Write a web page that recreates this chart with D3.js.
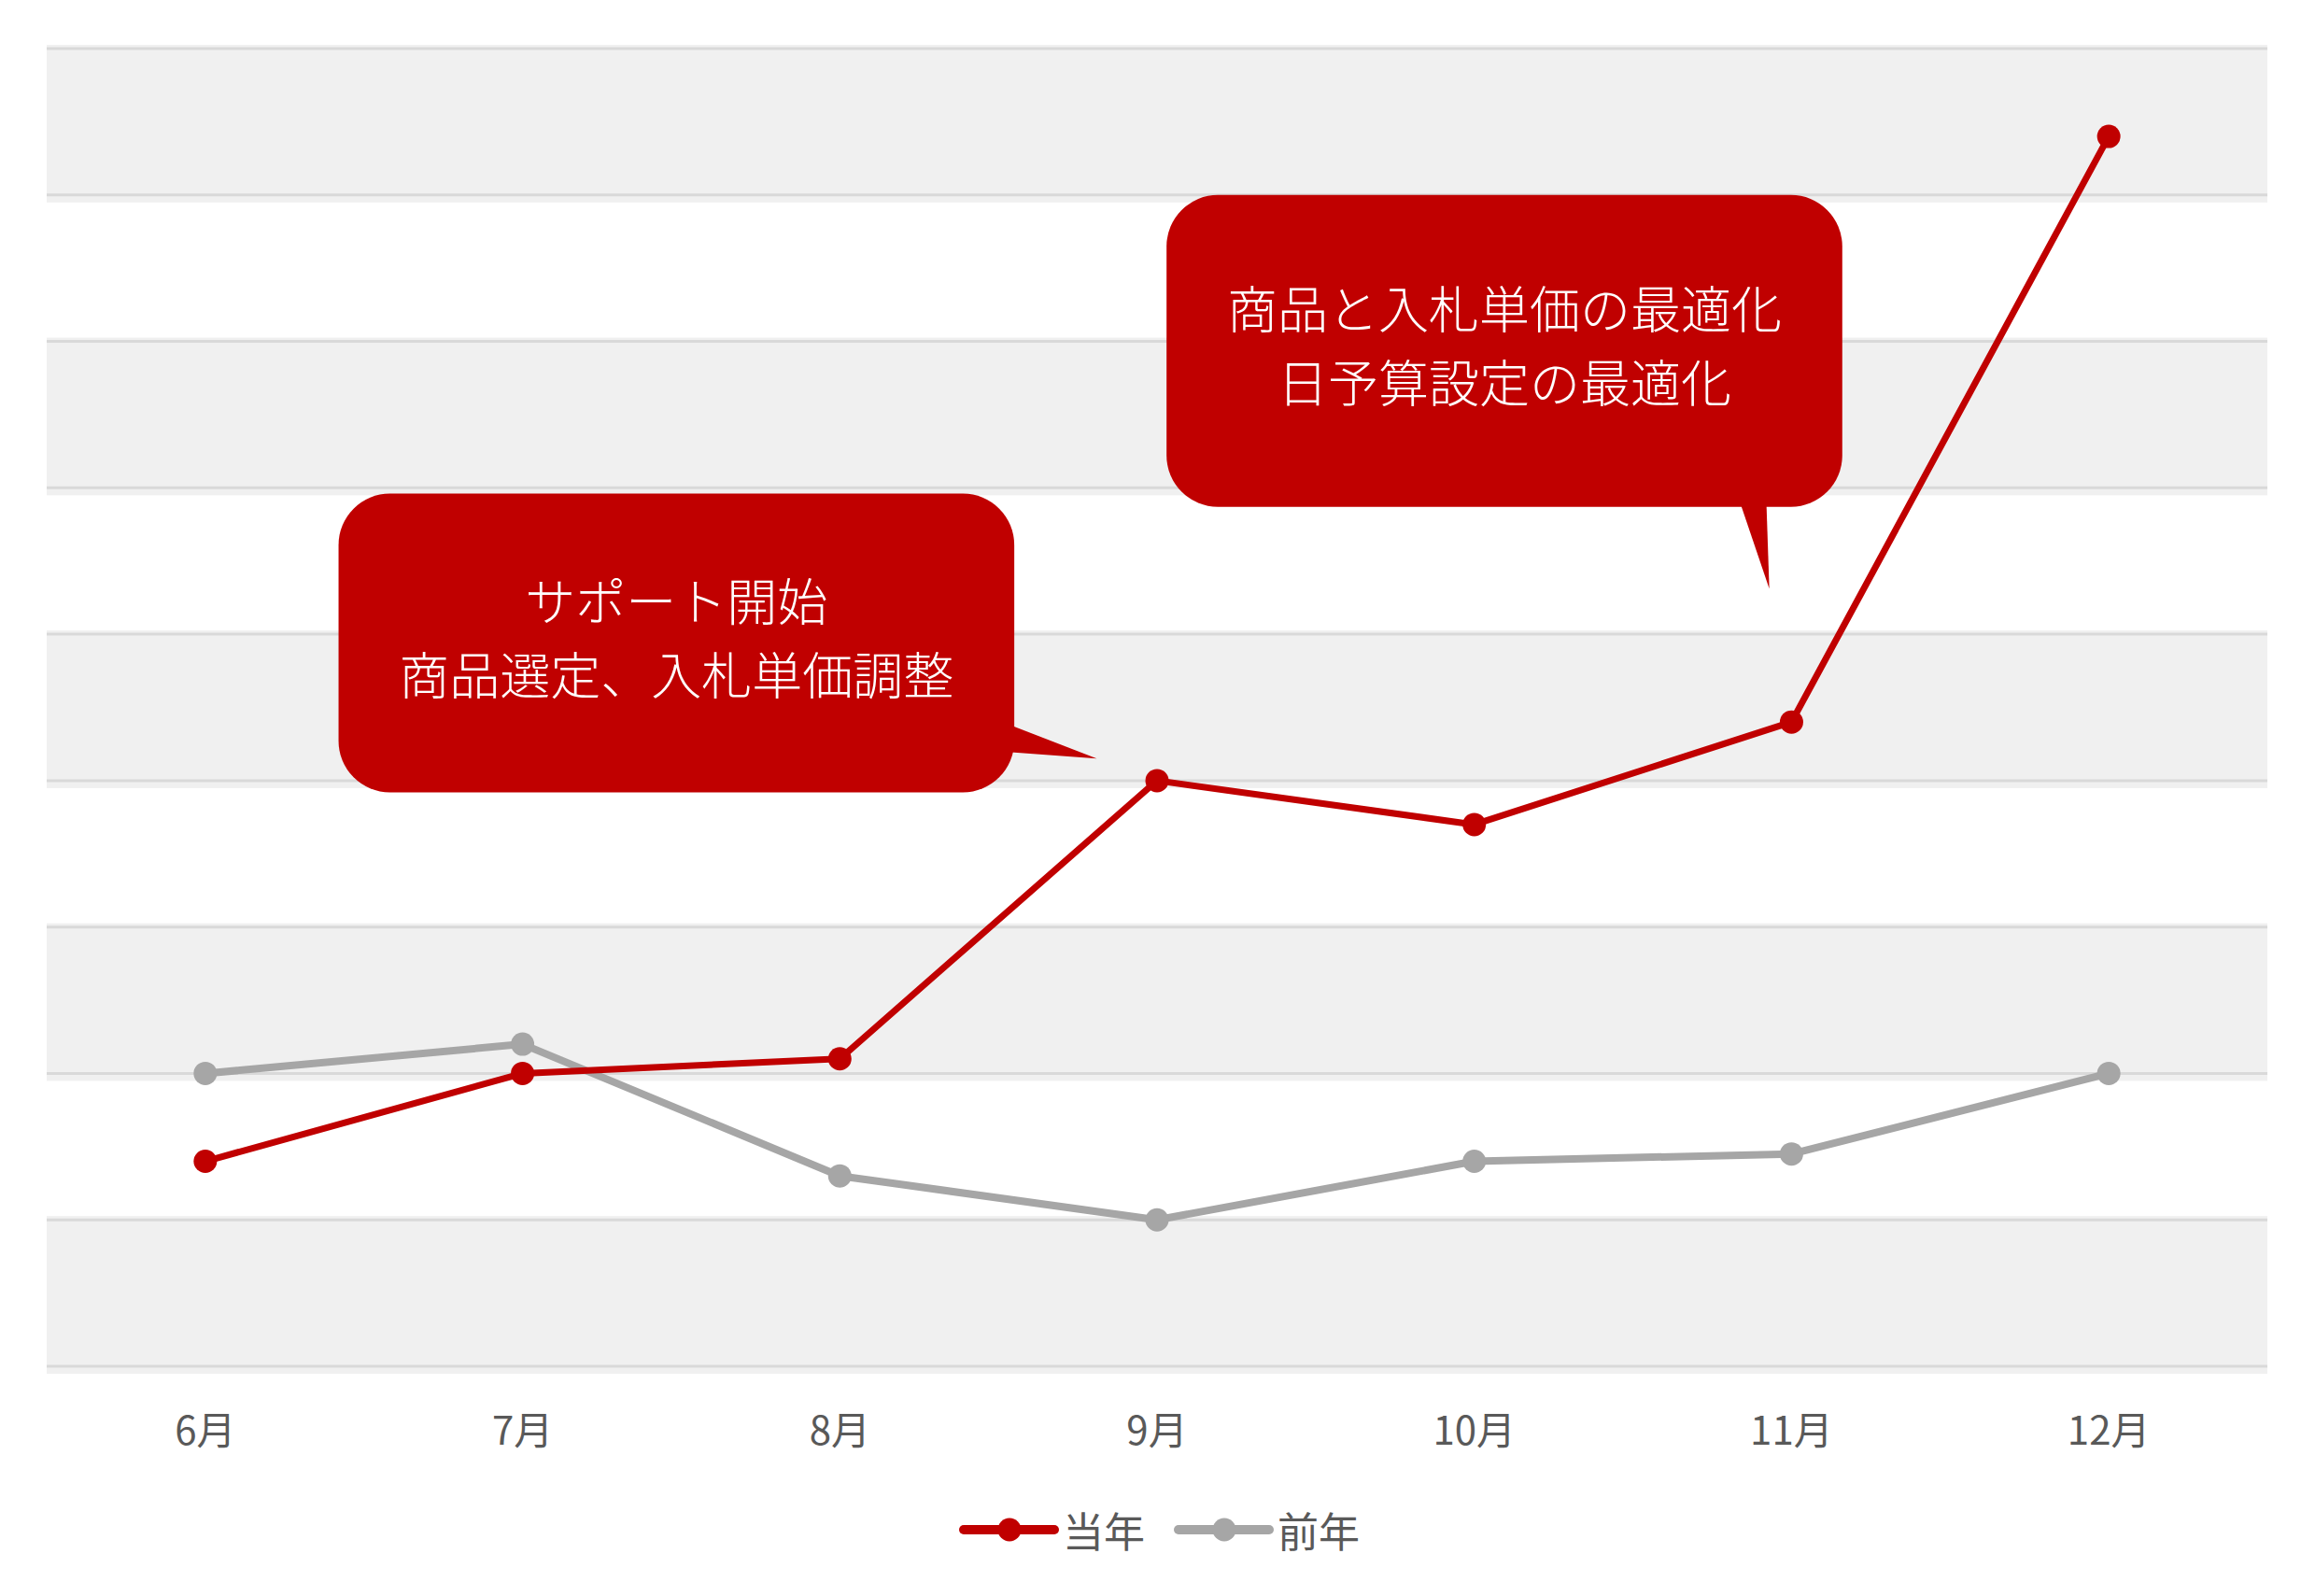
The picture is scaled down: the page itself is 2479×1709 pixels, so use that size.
<!DOCTYPE html>
<html>
<head>
<meta charset="utf-8">
<script src="https://cdn.jsdelivr.net/npm/d3@7"></script>
<style>
  body { margin: 0; background: #fff; }
  text { font-family: "Noto Sans CJK JP", "Noto Sans", sans-serif; }
</style>
</head>
<body>
<div id="chart"></div>
<script>
const months = ["6月", "7月", "8月", "9月", "10月", "11月", "12月"];
const thisYear = [1.4, 2.0, 2.1, 4.0, 3.7, 4.4, 8.4];
const lastYear = [2.0, 2.2, 1.3, 1.0, 1.4, 1.45, 2.0];
const gridTicks = [0, 1, 2, 3, 4, 5, 6, 7, 8, 9];
const seriesNames = ["当年", "前年"];
const seriesColors = ["#c00000", "#a6a6a6"];

// callouts: box in (month index, value) units, tail as three points
const callouts = [
  { lines: ["サポート開始", "商品選定、入札単価調整"],
    x0: 0.42, x1: 2.55, y0: 3.92, y1: 5.96,
    tail: [[2.50, 4.41], [2.81, 4.15], [2.50, 4.20]] },
  { lines: ["商品と入札単価の最適化", "日予算設定の最適化"],
    x0: 3.03, x1: 5.16, y0: 5.87, y1: 8.0,
    tail: [[4.83, 5.95], [4.93, 5.31], [4.92, 5.95]] }
];

const W = 2479, H = 1709;
const margin = {top: 52, right: 51, bottom: 246, left: 50};
const width = W - margin.left - margin.right,
  height = H - margin.top - margin.bottom;

const svg = d3.select("#chart")
  .append("svg")
    .attr("width", W)
    .attr("height", H)
  .append("g")
    .attr("transform", `translate(${margin.left},${margin.top})`);

const x = d3.scaleBand()
  .domain(months)
  .range([0, width]);

// index scale for annotations, same centres as the band scale
const xi = d3.scaleLinear()
  .domain([0, months.length - 1])
  .range([x(months[0]) + x.bandwidth() / 2, x(months[months.length - 1]) + x.bandwidth() / 2]);

const y = d3.scaleLinear()
  .domain([0, 9])
  .range([height, 0]);

// alternating bands
svg.append("g")
  .selectAll("rect")
  .data(d3.range(0, 9).filter(i => i % 2 === 0))
  .join("rect")
    .attr("x", 0)
    .attr("width", width)
    .attr("y", d => y(d + 1) - 4)
    .attr("height", d => y(d) - y(d + 1) + 12)
    .attr("fill", "#f0f0f0");

// gridlines
svg.append("g")
  .selectAll("line")
  .data(gridTicks)
  .join("line")
    .attr("x1", 0)
    .attr("x2", width)
    .attr("y1", d => y(d))
    .attr("y2", d => y(d))
    .attr("stroke", "#d9d9d9")
    .attr("stroke-width", 3);

// x axis labels
const xAxis = svg.append("g")
  .attr("transform", `translate(0, ${height})`)
  .call(d3.axisBottom(x).tickSize(0).tickPadding(54));
xAxis.select(".domain").remove();
xAxis.selectAll("text")
  .attr("font-size", 42)
  .attr("fill", "#595959")
  .attr("font-family", "'Noto Sans CJK JP', sans-serif");

// lines
const series = [lastYear, thisYear];
const colorsDraw = [seriesColors[1], seriesColors[0]];
const widths = [8, 7];

const line = d3.line()
  .x((d, i) => x(months[i]) + x.bandwidth() / 2)
  .y(d => y(d));

series.forEach((vals, k) => {
  svg.append("path")
    .datum(vals)
    .attr("fill", "none")
    .attr("stroke", colorsDraw[k])
    .attr("stroke-width", widths[k])
    .attr("stroke-linejoin", "round")
    .attr("d", line);
  svg.append("g")
    .selectAll("circle")
    .data(vals)
    .join("circle")
      .attr("cx", (d, i) => x(months[i]) + x.bandwidth() / 2)
      .attr("cy", d => y(d))
      .attr("r", 12.5)
      .attr("fill", colorsDraw[k]);
});

// callouts
callouts.forEach(c => {
  const g = svg.append("g");
  g.append("polygon")
    .attr("points", c.tail.map(p => [xi(p[0]), y(p[1])].join(",")).join(" "))
    .attr("fill", "#c00000");
  g.append("rect")
    .attr("x", xi(c.x0))
    .attr("y", y(c.y1))
    .attr("width", xi(c.x1) - xi(c.x0))
    .attr("height", y(c.y0) - y(c.y1))
    .attr("rx", 55)
    .attr("fill", "#c00000");
  const cx = (xi(c.x0) + xi(c.x1)) / 2;
  const cy = (y(c.y0) + y(c.y1)) / 2 - 3;
  const t = g.append("text")
    .attr("text-anchor", "middle")
    .attr("fill", "#fff")
    .attr("font-size", 54)
    .attr("font-weight", 300);
  t.selectAll("tspan")
    .data(c.lines)
    .join("tspan")
      .attr("x", cx)
      .attr("y", (d, i) => cy + (i - (c.lines.length - 1) / 2) * 79 + 19)
      .text(d => d);
});

// legend
const legend = svg.append("g")
  .attr("transform", `translate(${width / 2}, ${1638 - margin.top})`);
const items = [{name: seriesNames[0], color: seriesColors[0], x: -207},
               {name: seriesNames[1], color: seriesColors[1], x: 23}];
items.forEach(it => {
  const g = legend.append("g").attr("transform", `translate(${it.x}, 0)`);
  g.append("line")
    .attr("x1", 0).attr("x2", 97)
    .attr("stroke", it.color)
    .attr("stroke-width", 10)
    .attr("stroke-linecap", "round");
  g.append("circle")
    .attr("cx", 49).attr("r", 12.5)
    .attr("fill", it.color);
  g.append("text")
    .attr("x", 106)
    .attr("dominant-baseline", "central")
    .attr("font-size", 44)
    .attr("fill", "#595959")
    .text(it.name);
});
</script>
</body>
</html>
